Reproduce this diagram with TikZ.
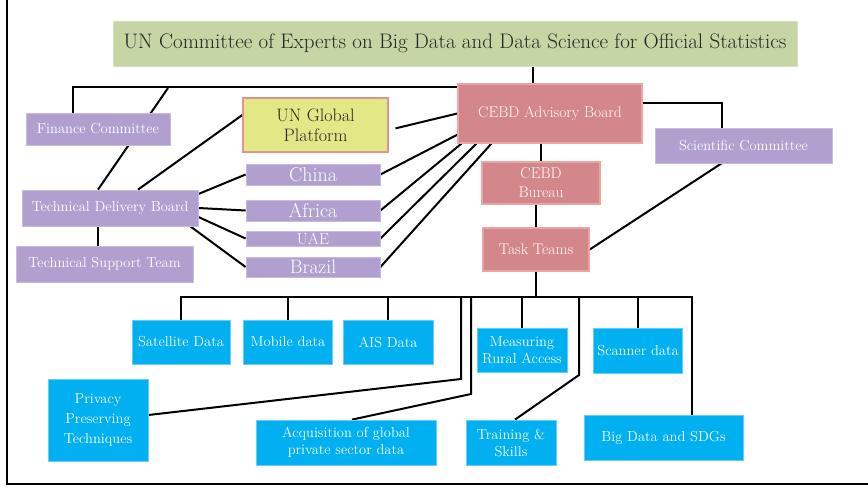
\documentclass[tikz,border=0pt]{standalone}
\usetikzlibrary{backgrounds}

\definecolor{vertfond}{HTML}{C5D5A3}
\definecolor{vertbord}{HTML}{D6E2BE}
\definecolor{violetfond}{HTML}{B1A0CF}
\definecolor{violetbord}{HTML}{C7BBE0}
\definecolor{rougefond}{HTML}{D4878A}
\definecolor{rougebord}{HTML}{EBA5A7}
\definecolor{jaunefond}{HTML}{E4E785}
\definecolor{jaunebord}{HTML}{DE9494}
\definecolor{bleufond}{HTML}{00B0F0}
\definecolor{bleubord}{HTML}{6ACDF4}

\tikzset{boite/.style   = {draw, line width=0.8pt, inner sep=1pt, align=center, text=white,
                           font=\fontsize{14.5}{17}\selectfont},
         taille/.style 2 args = {minimum width=#1, minimum height=#2},
         vert/.style    = {boite, fill=vertfond, draw=vertbord, text=black!85,
                           font=\fontsize{21}{24}\selectfont},
         violet/.style  = {boite, fill=violetfond, draw=violetbord},
         pays/.style    = {violet, font=\fontsize{#1}{#1}\selectfont},
         pays/.default  = 20,
         rouge/.style   = {boite, fill=rougefond, draw=rougebord, line width=1.4pt,
                           font=\fontsize{15.5}{19}\selectfont},
         jaune/.style   = {boite, fill=jaunefond, draw=jaunebord, line width=1.4pt, text=black!85,
                           font=\fontsize{18}{20}\selectfont},
         bleu/.style    = {boite, fill=bleufond, draw=bleubord},
         lien/.style    = {line width=2pt, draw=black}
        }

\begin{document}
\begin{tikzpicture}[x=1pt, y=-1pt]
  \useasboundingbox (0,0) rectangle (868,488);

  \node[vert, taille={684pt}{45pt}] (comite) at (455,43.5)
        {UN Committee of Experts on Big Data and Data Science for Official Statistics};
  \node[rouge, taille={184pt}{59pt}] (conseil) at (550,113.5) {CEBD Advisory Board};
  \node[violet, taille={144pt}{32pt}] (finance) at (98,129) {Finance Committee};
  \node[jaune, taille={145pt}{54pt}] (plateforme) at (315.5,125) {UN Global\\Platform};
  \node[violet, taille={177pt}{35pt}] (science) at (743.5,145.5) {Scientific Committee};
  \node[rouge, taille={118pt}{42pt}] (bureau) at (541,183) {CEBD\\Bureau};
  \node[rouge, taille={106pt}{43pt}] (equipes) at (536,249.5) {Task Teams};
  \node[violet, taille={176pt}{36pt}] (livraison) at (110,208) {Technical Delivery Board};
  \node[violet, taille={177pt}{36pt}] (support) at (104.5,264) {Technical Support Team};

  \node[pays, taille={134pt}{21pt}] (chine) at (313,174.5) {China};
  \node[pays, taille={134pt}{21pt}] (afrique) at (313,210.5) {Africa};
  \node[pays=16, taille={134pt}{15pt}] (eau) at (313,238.5) {UAE};
  \node[pays=19.5, taille={134pt}{20pt}] (bresil) at (313,267) {Brazil};

  \node[bleu, taille={98pt}{44pt}] (satellite) at (181,342) {Satellite Data};
  \node[bleu, taille={89pt}{44pt}] (mobile) at (288,342) {Mobile data};
  \node[bleu, taille={90pt}{44pt}] (ais) at (388,342) {AIS Data};
  \node[bleu, taille={90pt}{44pt}] (rural) at (522,350) {Measuring\\Rural Access};
  \node[bleu, taille={89pt}{45pt}] (scanner) at (638,350.5) {Scanner data};
  \node[bleu, taille={100pt}{82pt}, font=\fontsize{14.5}{20}\selectfont] (prive) at (98,420)
        {Privacy\\Preserving\\Techniques};
  \node[bleu, taille={180pt}{45pt}] (acquisition) at (346,442.5)
        {Acquisition of global\\private sector data};
  \node[bleu, taille={90pt}{45pt}] (formation) at (511,442.5) {Training \&\\Skills};
  \node[bleu, taille={159pt}{45pt}] (odd) at (663.5,437.5) {Big Data and SDGs};

  \coordinate (barre) at (0,297);
  \coordinate (bus) at (168,88);
  \coordinate (coudeP) at (461,379);
  \coordinate (coudeA) at (471,394);
  \coordinate (coudeF) at (579,375);
  \coordinate (coudeS) at (692,297);

  \begin{scope}[on background layer]
  \begin{scope}[every path/.style=lien]
    \draw (comite.south -| 533,0) -- (conseil.north -| 533,0);
    \draw ([xshift=-25pt]finance.north) |- ([yshift=-4pt]conseil.north west);
    \draw (bus) -- ([xshift=-12pt]livraison.north);
    \draw ([yshift=10pt]plateforme.west) -- ([xshift=28pt]livraison.north);
    \draw[shorten <=7pt] ([yshift=-5pt]plateforme.east) -- (conseil.west);
    \draw ([yshift=10.5pt]conseil.east) -| ([xshift=-21.5pt]science.north);
    \draw (bureau.north) -- (bureau.north |- conseil.south);
    \draw (equipes.north) -- (equipes.north |- bureau.south);
    \draw ([xshift=-22pt]science.south) -- (equipes.east);
    \draw ([xshift=-6.5pt]support.north) -- ([xshift=-12pt]livraison.south);

    \draw ([yshift=14pt]livraison.east) -- (chine.west);
    \draw (livraison.east) -- (afrique.west);
    \draw ([yshift=-9pt]livraison.east) -- (eau.west);
    \draw ([xshift=-8pt]livraison.south east) -- (bresil.west);
    \draw (chine.east) -- ([yshift=9pt]conseil.south west);
    \draw (afrique.east) -- ([xshift=4pt]conseil.south west);
    \draw (eau.east) -- ([xshift=19pt]conseil.south west);
    \draw (bresil.east) -- ([xshift=34pt]conseil.south west);

    \draw (equipes.south) -- (equipes.south |- barre);
    \draw (satellite.north) |- (coudeS) -- (coudeS |- odd.north);
    \draw (mobile.north) -- (mobile.north |- barre);
    \draw (ais.north) -- (ais.north |- barre);
    \draw (rural.north) -- (rural.north |- barre);
    \draw (scanner.north) -- (scanner.north |- barre);
    \draw (coudeP |- barre) -- (coudeP) -- ([yshift=5pt]prive.east);
    \draw (coudeA |- barre) -- (coudeA) -- ([xshift=6pt]acquisition.north);
    \draw (coudeF |- barre) -- (coudeF) -- ([xshift=4pt]formation.north);
  \end{scope}
  \end{scope}

  \draw[line width=2pt] (7,0) |- (868,484);
\end{tikzpicture}
\end{document}
